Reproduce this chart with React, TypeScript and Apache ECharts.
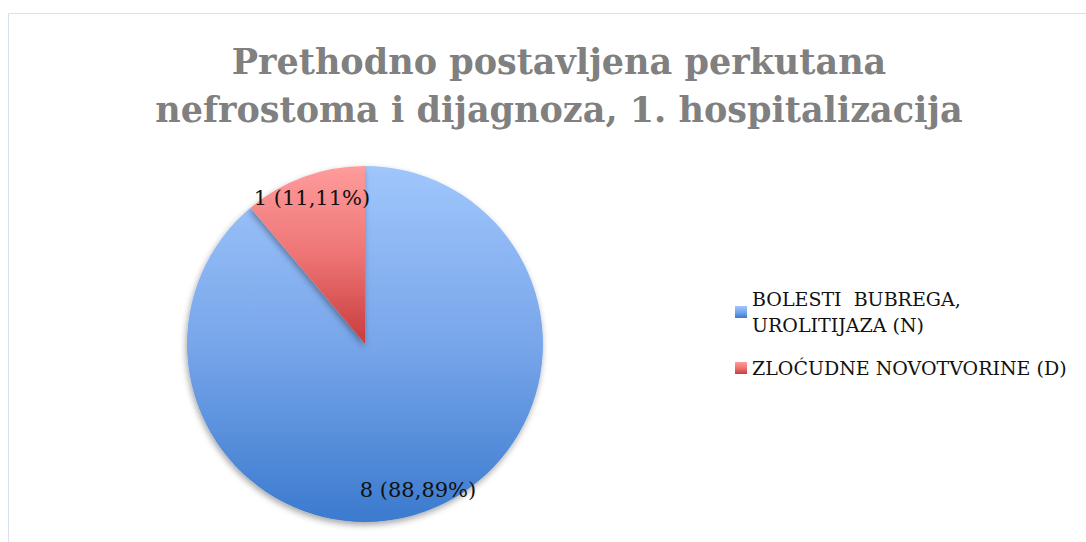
import React, { useEffect, useRef } from "react";
import * as echarts from "echarts";

const titleLines = ["Prethodno postavljena perkutana", "nefrostoma i dijagnoza, 1. hospitalizacija"];
const categories = ["BOLESTI  BUBREGA,\nUROLITIJAZA (N)", "ZLOĆUDNE NOVOTVORINE (D)"];
const values = [8, 1];
const percentLabels = ["88,89%", "11,11%"];

const blueGrad = () =>
  new echarts.graphic.LinearGradient(0, 0, 0, 1, [
    { offset: 0, color: "#a0c6fc" },
    { offset: 0.5, color: "#78a6ea" },
    { offset: 1, color: "#3b7ace" },
  ]);
const redGrad = () =>
  new echarts.graphic.LinearGradient(0, 0, 0, 1, [
    { offset: 0, color: "#ff9c9c" },
    { offset: 0.5, color: "#ee7474" },
    { offset: 1, color: "#c83c3c" },
  ]);

export default function App() {
  const ref = useRef<HTMLDivElement>(null);
  useEffect(() => {
    document.body.style.margin = "0";
    const chart = echarts.init(ref.current!, null, { renderer: "svg" });
    const colors = [blueGrad(), redGrad()];
    const data = categories.map((name, i) => ({
      name,
      value: values[i],
      itemStyle: { color: colors[i] },
    }));
    const labelData = categories.map((name, i) => ({
      name,
      value: values[i],
      label: { formatter: `${values[i]} (${percentLabels[i]})` },
    }));
    chart.setOption({
      animation: false,
      backgroundColor: "#ffffff",
      title: {
        text: titleLines.join("\n"),
        left: 554,
        textAlign: "center",
        top: 32,
        textStyle: {
          fontFamily: "DejaVu Serif",
          fontWeight: "bold",
          fontSize: 35,
          color: "#808080",
          lineHeight: 48,
        },
      },
      legend: {
        orient: "vertical",
        left: 735,
        top: 286,
        padding: 0,
        itemWidth: 12,
        itemHeight: 12,
        itemGap: 17,
        icon: "rect",
        data: categories,
        textStyle: {
          fontFamily: "DejaVu Serif",
          fontSize: 19,
          color: "#111111",
          lineHeight: 26,
        },
      },
      graphic: [
        {
          type: "rect",
          shape: { x: 8.5, y: 13.5, width: 1100, height: 600 },
          style: { fill: "none", stroke: "#d9e1ee", lineWidth: 1 },
          silent: true,
        },
      ],
      series: [
        {
          type: "pie",
          center: [365, 344],
          radius: [0, 178],
          startAngle: 90,
          clockwise: true,
          data,
          label: { show: false },
          labelLine: { show: false },
          itemStyle: {
            borderWidth: 0,
            shadowBlur: 6,
            shadowOffsetX: -1,
            shadowOffsetY: 3,
            shadowColor: "rgba(0,0,0,0.35)",
          },
          emphasis: { disabled: true },
        },
        {
          type: "pie",
          center: [365, 344],
          radius: [126, 178],
          startAngle: 90,
          clockwise: true,
          data: labelData,
          silent: true,
          itemStyle: { color: "rgba(0,0,0,0)" },
          label: {
            show: true,
            position: "inside",
            fontFamily: "DejaVu Serif",
            fontSize: 21,
            color: "#111111",
          },
          labelLine: { show: false },
          emphasis: { disabled: true },
          legendHoverLink: false,
        },
      ],
    });
    return () => chart.dispose();
  }, []);
  return <div ref={ref} style={{ width: 1086, height: 542 }} />;
}
